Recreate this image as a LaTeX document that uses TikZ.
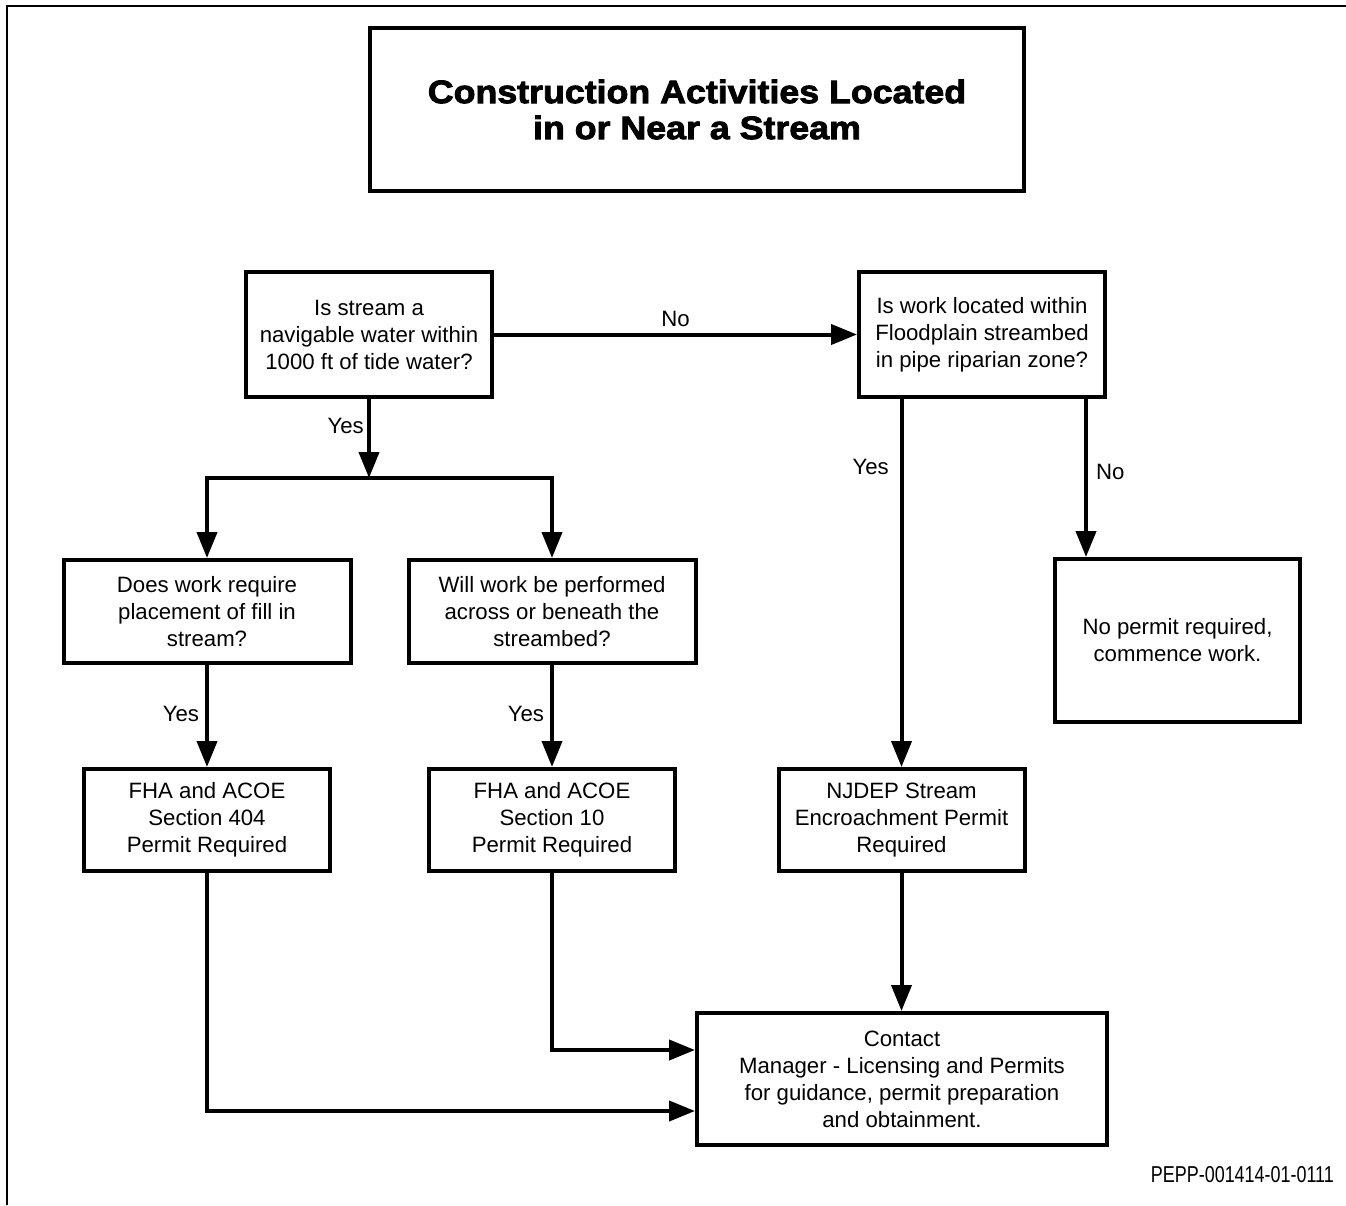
\documentclass[tikz,border=0pt]{standalone}
\usepackage{fontspec}
\setmainfont{Liberation Sans}
\newfontfamily\titlefont{Liberation Sans}[BoldFeatures={FakeBold=2.6,FakeStretch=1.1}]
\newfontfamily\narrowfont{Liberation Sans}[FakeStretch=0.78]
\usetikzlibrary{arrows.meta,calc}
\begin{document}
\begin{tikzpicture}[x=1pt,y=-1pt,
  box/.style={draw,line width=4pt,rectangle,align=center,inner sep=0pt,
    font=\fontsize{22.2}{27}\selectfont},
  conn/.style={line width=4pt},
  arr/.style={line width=4pt,-{Triangle[length=26pt,width=20pt]}},
  lbl/.style={font=\fontsize{22.2}{25}\selectfont,inner sep=0pt}]
\useasboundingbox (0,0) rectangle (1346,1205);
\draw[line width=2.5pt] (7,1205) -- (7,6) -- (1346,6);

\node[box,minimum width=654pt,minimum height=163pt,
  font=\titlefont\bfseries\fontsize{32.5}{36}\selectfont] (title) at (697,109.5)
  {Construction Activities Located\\in or Near a Stream};

\node[box,minimum width=246pt,minimum height=125pt] (q1) at (369,334.5)
  {Is stream a\\navigable water within\\1000 ft of tide water?};
\node[box,minimum width=246pt,minimum height=125pt] (q4) at (982,334.5)
  {Is work located within\\Floodplain streambed\\in pipe riparian zone?};

\node[box,minimum width=287pt,minimum height=103pt] (q2) at (207,611.5)
  {Does work require\\placement of fill in\\stream?};
\node[box,minimum width=287pt,minimum height=103pt] (q3) at (552,611.5)
  {Will work be performed\\across or beneath the\\streambed?};

\node[box,minimum width=246pt,minimum height=102pt] (r1) at (207,820)
  {FHA and ACOE\\Section 404\\Permit Required};
\node[box,minimum width=246pt,minimum height=102pt] (r2) at (552,820)
  {FHA and ACOE\\Section 10\\Permit Required};
\node[box,minimum width=246pt,minimum height=102pt] (r3) at (901.5,820)
  {NJDEP Stream\\Encroachment Permit\\Required};
\node[box,minimum width=245pt,minimum height=163pt] (r4) at (1177.5,640.5)
  {No permit required,\\commence work.};

\node[box,minimum width=410pt,minimum height=132pt] (contact) at (902,1079)
  {Contact\\Manager - Licensing and Permits\\for guidance, permit preparation\\and obtainment.};

% branch
\coordinate (j) at (369,478);
\coordinate (jl) at (207,478);
\coordinate (jr) at (552,478);
\draw[arr] (q1.south) -- (j);
\draw[conn,line cap=rect] (jl) -- (jr);
\draw[arr] (jl) -- (q2.north);
\draw[arr] (jr) -- (q3.north);
\node[lbl,anchor=east] (yes1) at (364,426) {Yes};

\draw[arr] (q1.east) -- node[lbl,above=6pt] (no1) {No} (q4.west);

\draw[arr] (q2.south) -- node[lbl,anchor=east,pos=0.48,xshift=-6pt] (yes2) {Yes} (r1.north);
\draw[arr] (q3.south) -- node[lbl,anchor=east,pos=0.48,xshift=-6pt] (yes3) {Yes} (r2.north);

\draw[arr] (r3.north |- q4.south) -- (r3.north);
\node[lbl,anchor=east] (yes4) at (889,467) {Yes};
\draw[arr] ([xshift=-21pt]q4.south east) -- ([xshift=-21pt]q4.south east |- r4.north);
\node[lbl,anchor=west] (no2) at (1096,472) {No};

\draw[arr] (r3.south) -- (r3.south |- contact.north);
\draw[arr] (r2.south) |- ([yshift=29pt]contact.west);
\draw[arr] (r1.south) |- ([yshift=-32pt]contact.west);

\node[anchor=east,inner sep=0pt,font=\narrowfont\fontsize{23}{24}\selectfont] (code) at (1334,1175) {PEPP-001414-01-0111};
\end{tikzpicture}
\end{document}
